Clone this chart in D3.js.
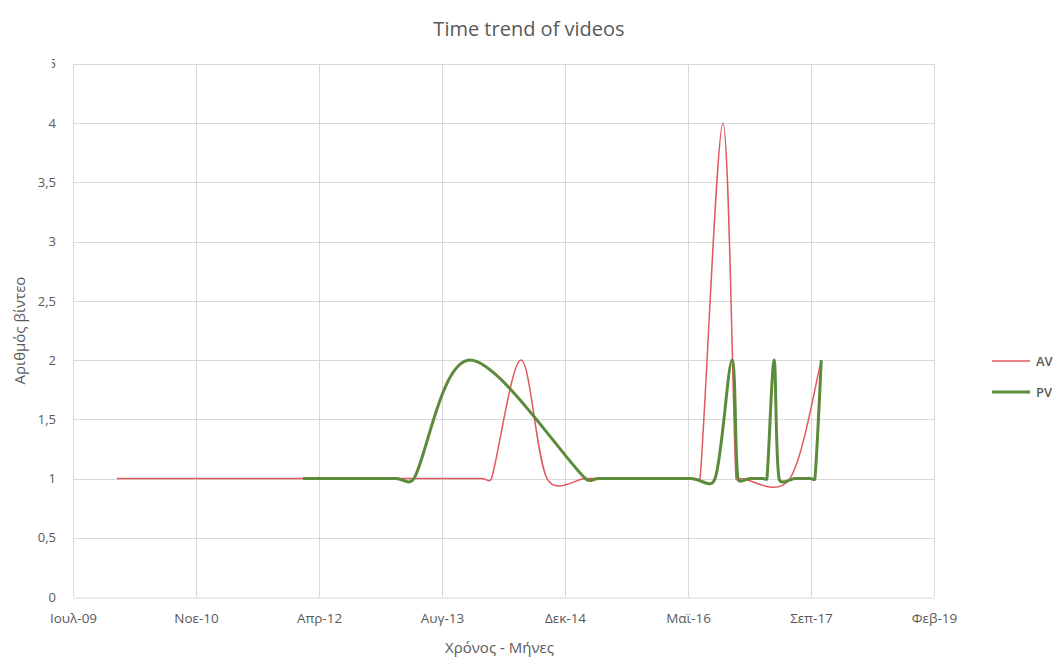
<!DOCTYPE html>
<html>
<head>
<meta charset="utf-8">
<script src="https://cdn.jsdelivr.net/npm/d3@7"></script>
<style>
  html, body { margin: 0; padding: 0; background: #ffffff; }
  svg { display: block; }
  text { font-family: "Open Sans", "Noto Sans", "DejaVu Sans", sans-serif; fill: #595959; }
</style>
</head>
<body>
<svg id="chart" width="1058" height="659"></svg>
<script>
// Series: AV (dates, number of videos)
const avDates  = ["2010-01-01", "2012-06-01", "2014-01-20", "2014-03-03", "2014-07-01", "2014-10-15",
                  "2015-03-18", "2015-05-15", "2016-05-20", "2016-06-28", "2016-09-29", "2016-11-21",
                  "2016-12-15", "2017-06-28", "2017-11-03"];
const avValues = [1, 1, 1, 1, 2, 1, 1, 1, 1, 1, 4, 1, 1, 1, 2];

// Series: PV
const pvDates  = ["2012-01-27", "2012-11-01", "2013-02-08", "2013-04-22", "2013-12-06", "2015-03-20",
                  "2015-05-15", "2016-05-18", "2016-08-28", "2016-11-05", "2016-11-29", "2017-01-18",
                  "2017-03-10", "2017-03-27", "2017-04-25", "2017-05-15", "2017-07-19", "2017-09-18",
                  "2017-10-08", "2017-11-03"];
const pvValues = [1, 1, 1, 1, 2, 1, 1, 1, 1, 2, 1, 1, 1, 1, 2, 1, 1, 1, 1, 2];

// Date axis: 500-day steps from 2009-07-06 to 2019-02-04
const xTickLabels = ["Ιουλ-09", "Νοε-10", "Απρ-12", "Αυγ-13", "Δεκ-14", "Μαϊ-16", "Σεπ-17", "Φεβ-19"];
const yTickValues = [0, 0.5, 1, 1.5, 2, 2.5, 3, 3.5, 4, 4.5];
const yTickLabels = ["0", "0,5", "1", "1,5", "2", "2,5", "3", "3,5", "4", "4,5"];

const seriesNames = ["AV", "PV"];
const seriesColors = ["#e2585e", "#5d8b3c"];

const svg = d3.select("#chart");
const W = 1058, H = 659;
const plot = { left: 73, right: 934, top: 64, bottom: 597 };

const parse = d3.utcParse("%Y-%m-%d");
const xStart = parse("2009-07-06");
const xTicks = xTickLabels.map((_, i) => d3.utcDay.offset(xStart, 500 * i));

const x = d3.scaleUtc().domain([xTicks[0], xTicks[xTicks.length - 1]]).range([plot.left, plot.right]);
const y = d3.scaleLinear().domain([0, 4.5]).range([plot.bottom, plot.top]);

// Spreadsheet-style smoothed line: cubic Bezier segments whose control
// points follow the neighbouring chord, capped at half the segment length.
function smoothPath(pts) {
  const p = d3.path();
  const n = pts.length;
  const dist = (a, b) => Math.hypot(b[0] - a[0], b[1] - a[1]);
  p.moveTo(pts[0][0], pts[0][1]);
  for (let i = 0; i < n - 1; i++) {
    const p0 = pts[Math.max(i - 1, 0)], p1 = pts[i], p2 = pts[i + 1], p3 = pts[Math.min(i + 2, n - 1)];
    const d12 = dist(p1, p2), d02 = dist(p0, p2), d13 = dist(p1, p3);
    const f0 = d02 > 0 ? Math.min(1 / 6, d12 / (2 * d02)) : 0;
    const f1 = d13 > 0 ? Math.min(1 / 6, d12 / (2 * d13)) : 0;
    const c1 = [p1[0] + (p2[0] - p0[0]) * f0, p1[1] + (p2[1] - p0[1]) * f0];
    const c2 = [p2[0] - (p3[0] - p1[0]) * f1, p2[1] - (p3[1] - p1[1]) * f1];
    p.bezierCurveTo(c1[0], c1[1], c2[0], c2[1], p2[0], p2[1]);
  }
  return p.toString();
}

// Gridlines
const grid = svg.append("g");
grid.selectAll("line.h").data(yTickValues.slice(1)).join("line")
  .attr("x1", plot.left).attr("x2", plot.right)
  .attr("y1", d => Math.round(y(d)) + 0.5).attr("y2", d => Math.round(y(d)) + 0.5)
  .attr("stroke", "#d9d9d9").attr("stroke-width", 1);
grid.selectAll("line.v").data(xTicks).join("line")
  .attr("x1", d => Math.round(x(d)) + 0.5).attr("x2", d => Math.round(x(d)) + 0.5)
  .attr("y1", plot.top).attr("y2", plot.bottom)
  .attr("stroke", "#d9d9d9").attr("stroke-width", 1);

// X axis
const xAxis = d3.axisBottom(x).tickValues(xTicks)
  .tickFormat((d, i) => xTickLabels[i]).tickSize(0).tickPadding(16);
const gx = svg.append("g").attr("transform", `translate(0,${plot.bottom + 0.5})`).call(xAxis);
gx.select(".domain").attr("stroke", "#d9d9d9");
gx.selectAll("text").style("font-size", "13.5px").attr("fill", "#595959");

// Y axis
const yAxis = d3.axisLeft(y).tickValues(yTickValues)
  .tickFormat((d, i) => yTickLabels[i]).tickSize(0).tickPadding(17);
const gy = svg.append("g").attr("transform", `translate(${plot.left},0)`).call(yAxis);
gy.select(".domain").remove();
gy.selectAll("text").style("font-size", "13px").attr("fill", "#595959");

// the top label sits under the chart frame; only a sliver of it shows
svg.append("defs").append("clipPath").attr("id", "topTickClip")
  .append("rect").attr("x", -21).attr("y", 55).attr("width", 4).attr("height", 14);
gy.selectAll(".tick").filter(d => d === 4.5).attr("clip-path", "url(#topTickClip)")
  .attr("transform", null)
  .select("text").attr("transform", `translate(0,${y(4.5)})`);

// Lines
const av = avDates.map((d, i) => [x(parse(d)), y(avValues[i])]);
const pv = pvDates.map((d, i) => [x(parse(d)), y(pvValues[i])]);

svg.append("path").attr("d", smoothPath(av))
  .attr("fill", "none").attr("stroke", seriesColors[0]).attr("stroke-width", 1.5)
  .attr("stroke-linejoin", "round");
svg.append("path").attr("d", smoothPath(pv))
  .attr("fill", "none").attr("stroke", seriesColors[1]).attr("stroke-width", 3)
  .attr("stroke-linejoin", "round");

// Title
svg.append("text").attr("x", W / 2).attr("y", 36).attr("text-anchor", "middle")
  .style("font-size", "20px").text("Time trend of videos");

// Axis titles
svg.append("text").attr("transform", `translate(25,${(plot.top + plot.bottom) / 2}) rotate(-90)`)
  .attr("text-anchor", "middle").style("font-size", "15px").text("Αριθμός βίντεο");
svg.append("text").attr("x", (plot.left + plot.right) / 2 - 4).attr("y", 653)
  .attr("text-anchor", "middle").style("font-size", "15px").text("Χρόνος - Μήνες");

// Legend
const legend = svg.append("g");
const legendY = [361, 392];
seriesNames.forEach((name, i) => {
  legend.append("line").attr("x1", 992).attr("x2", 1030)
    .attr("y1", legendY[i]).attr("y2", legendY[i])
    .attr("stroke", seriesColors[i]).attr("stroke-width", i === 0 ? 1.5 : 3);
  legend.append("text").attr("x", 1036).attr("y", legendY[i]).attr("dy", "0.35em")
    .style("font-size", "13px").style("font-weight", "600").attr("fill", "#404040").text(name);
});
</script>
</body>
</html>
